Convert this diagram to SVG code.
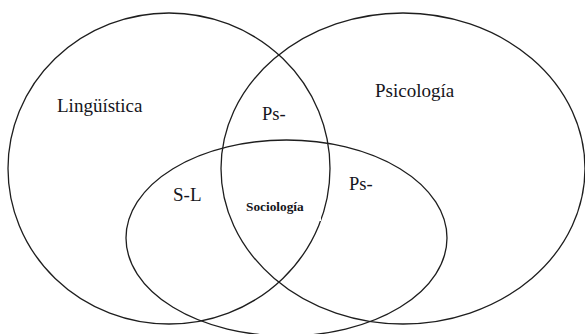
<svg xmlns="http://www.w3.org/2000/svg" width="585" height="334" viewBox="0 0 585 334">
<style>
.c{fill:none;stroke:#1e1e1e;stroke-width:1.3}
.t{font-family:'Liberation Serif','Tinos','DejaVu Serif',serif;fill:#151520}
</style>
<rect width="585" height="334" fill="#fff"/>
<g id="connectors"></g>
<g id="linguistica">
<ellipse class="c" cx="169" cy="168.5" rx="161" ry="155.5"/>
<text class="t" x="57" y="112" font-size="19">Lingüística</text>
</g>
<g id="psicologia">
<ellipse class="c" cx="403" cy="168.5" rx="182" ry="155.5"/>
<text class="t" x="375" y="97" font-size="19">Psicología</text>
</g>
<g id="sociologia-set">
<ellipse class="c" cx="286.5" cy="238" rx="160.5" ry="98"/>
</g>
<g id="ps-top">
<text class="t" x="262" y="120" font-size="18.5">Ps-</text>
</g>
<g id="ps-right">
<text class="t" x="349" y="190" font-size="18.5">Ps-</text>
</g>
<g id="s-l">
<text class="t" x="173" y="201" font-size="19">S-L</text>
</g>
<g id="sociologia">
<rect x="241" y="201" width="80" height="20" fill="#fff"/>
<text class="t" x="246" y="211" font-size="13.3" font-weight="bold">Sociología</text>
</g>
</svg>
